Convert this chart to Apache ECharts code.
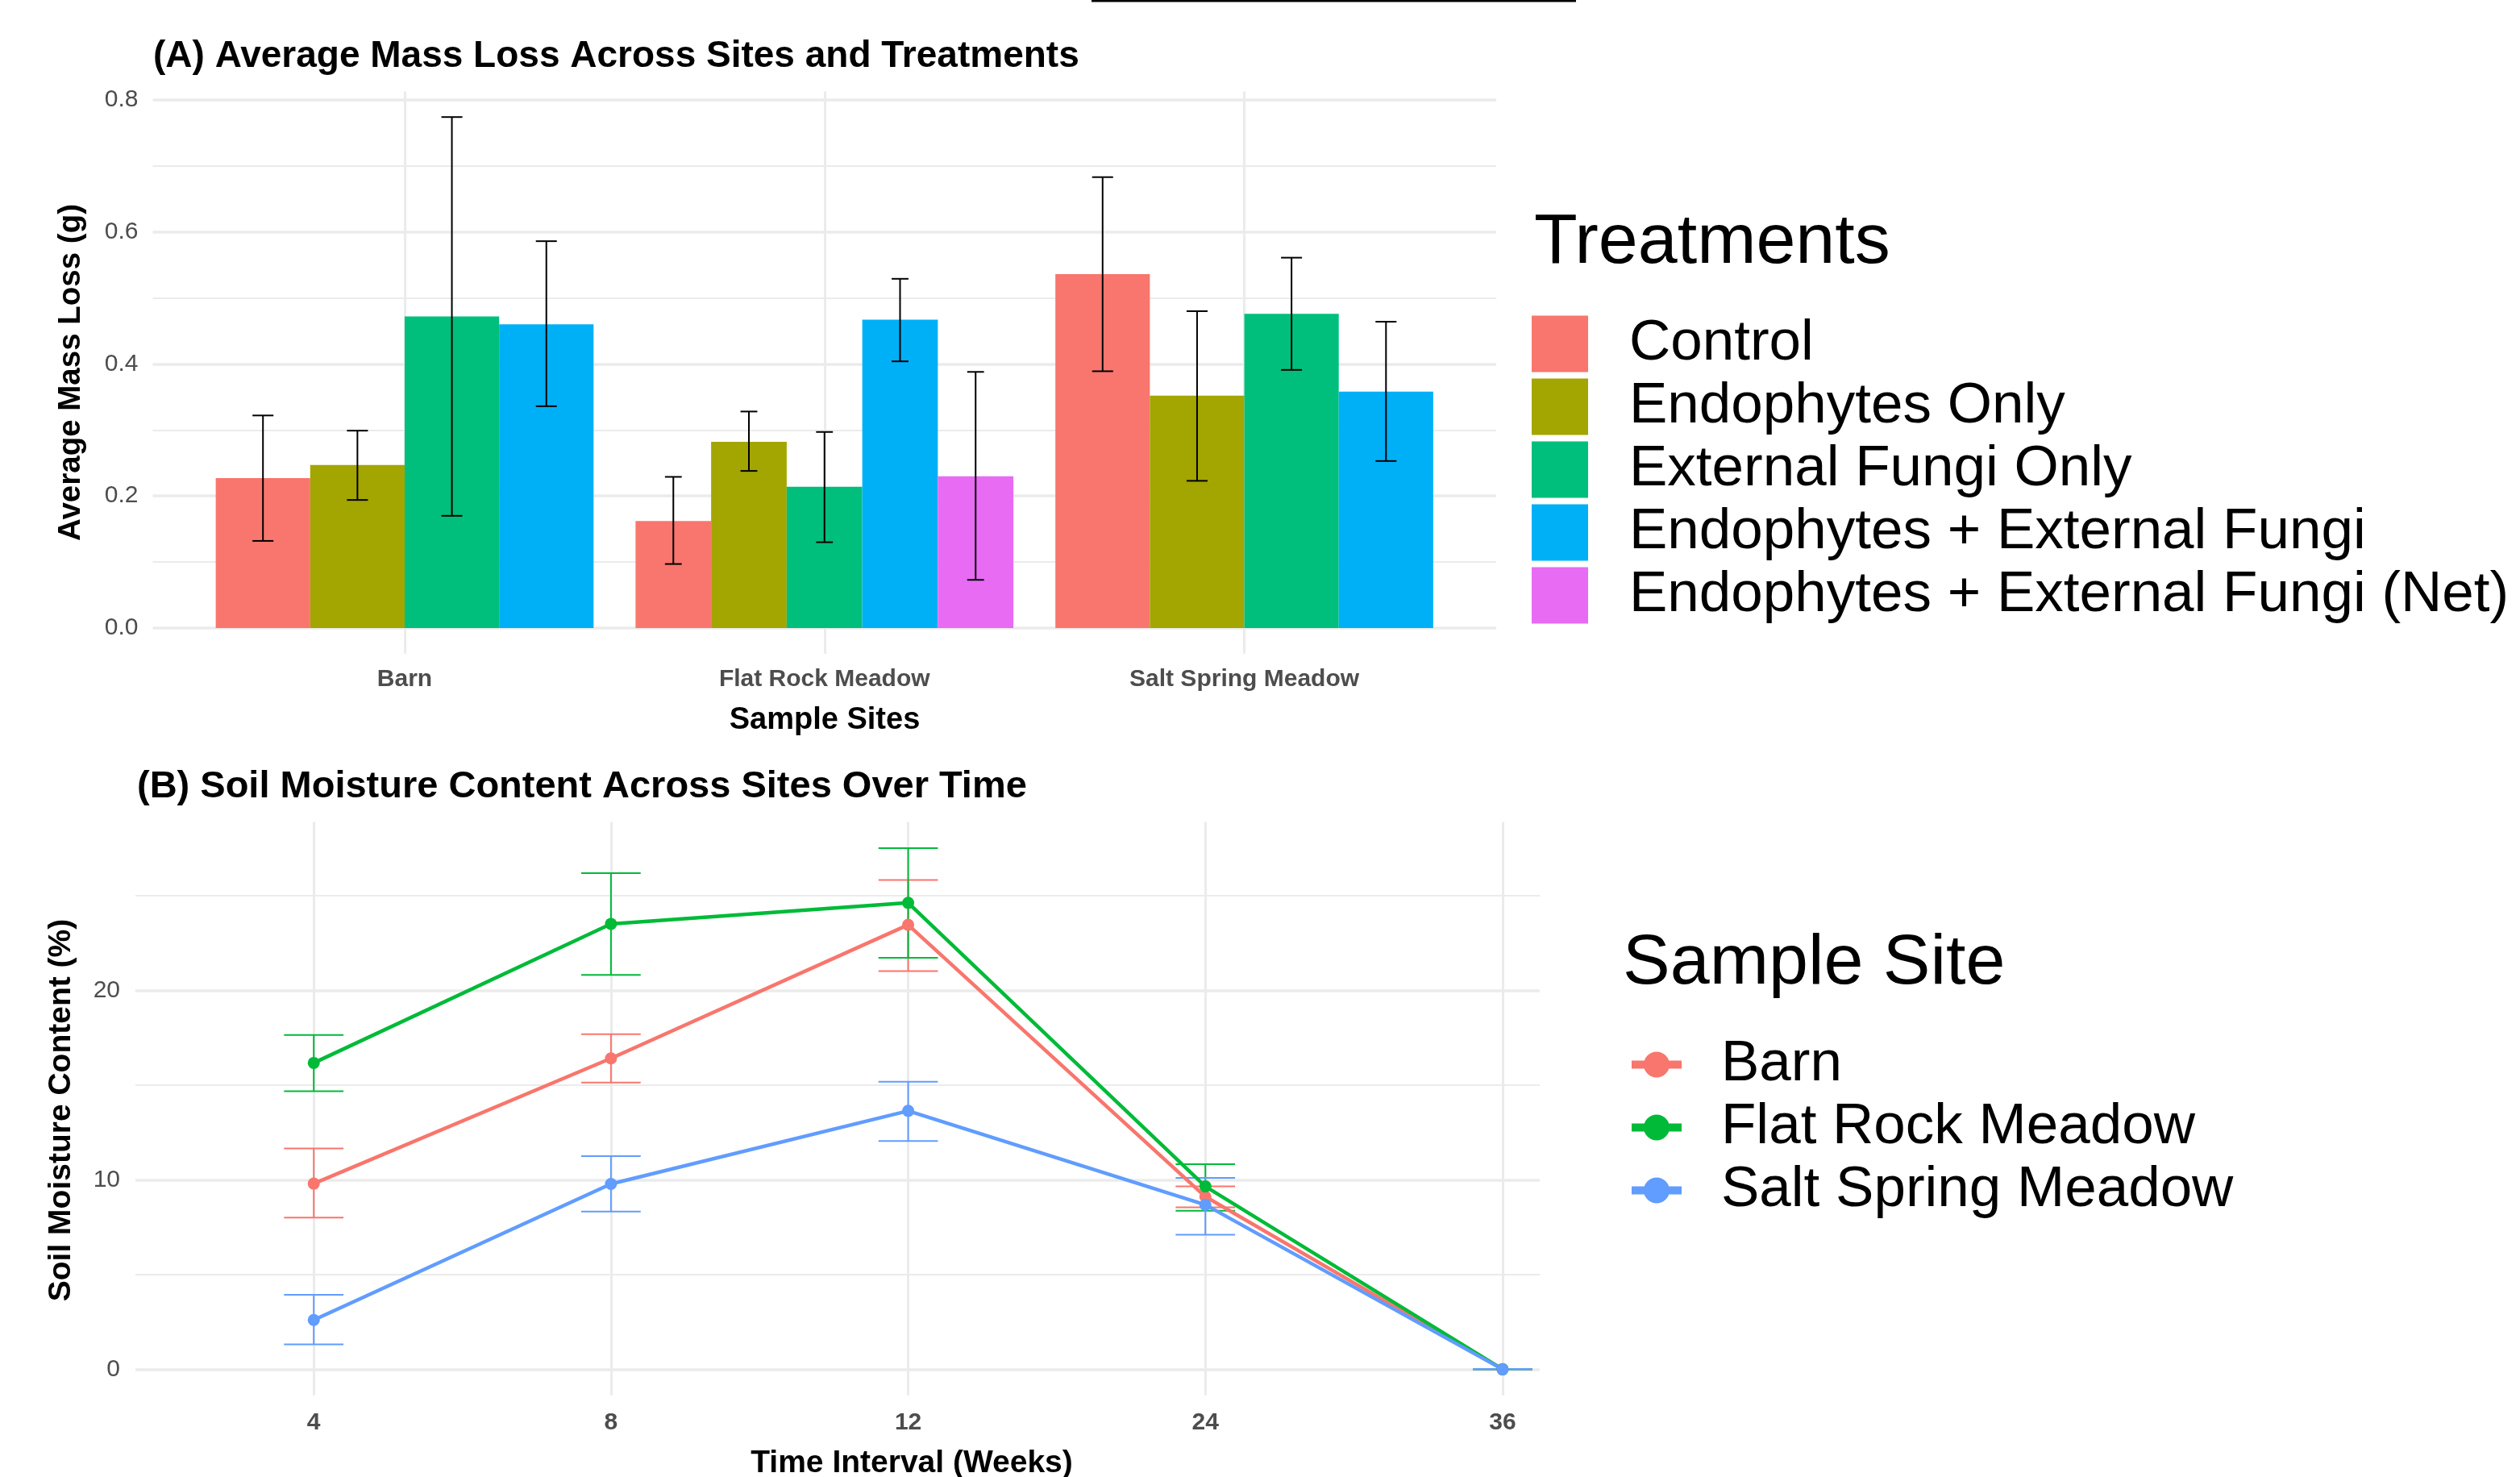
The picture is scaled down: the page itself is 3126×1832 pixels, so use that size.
<!DOCTYPE html>
<html><head><meta charset="utf-8">
<script src="https://cdn.jsdelivr.net/npm/echarts@6/dist/echarts.min.js"></script>
<style>html,body{margin:0;padding:0;background:#fff}#c{width:3126px;height:1832px}</style>
</head><body><div id="c"></div>
<script>
// ---------- Panel A data ----------
const sites = ['Barn', 'Flat Rock Meadow', 'Salt Spring Meadow'];
const treatments = ['Control', 'Endophytes Only', 'External Fungi Only', 'Endophytes + External Fungi', 'Endophytes + External Fungi (Net)'];
const massControl = [0.227, 0.162, 0.536];
const massEndo = [0.247, 0.282, 0.352];
const massExt = [0.472, 0.214, 0.476];
const massBoth = [0.460, 0.467, 0.358];
const massNet = [null, 0.230, null];
const lowControl = [0.132, 0.097, 0.389];
const lowEndo = [0.194, 0.238, 0.223];
const lowExt = [0.170, 0.130, 0.391];
const lowBoth = [0.336, 0.404, 0.253];
const lowNet = [null, 0.073, null];
const highControl = [0.322, 0.229, 0.683];
const highEndo = [0.299, 0.328, 0.480];
const highExt = [0.774, 0.297, 0.561];
const highBoth = [0.586, 0.529, 0.464];
const highNet = [null, 0.388, null];
const massTicks = [0, 0.2, 0.4, 0.6, 0.8];
const massMinor = [0.1, 0.3, 0.5, 0.7];

// ---------- Panel B data ----------
const weeks = ['4', '8', '12', '24', '36'];
const siteNames = ['Barn', 'Flat Rock Meadow', 'Salt Spring Meadow'];
const moistBarn = [9.80, 16.41, 23.46, 9.11, 0];
const moistFlat = [16.17, 23.51, 24.62, 9.65, 0];
const moistSalt = [2.60, 9.78, 13.64, 8.68, 0];
const lowBarn = [8.01, 15.13, 21.02, 8.55, 0];
const lowFlat = [14.68, 20.81, 21.72, 8.37, 0];
const lowSalt = [1.31, 8.33, 12.05, 7.10, 0];
const highBarn = [11.66, 17.69, 25.83, 9.65, 0];
const highFlat = [17.64, 26.19, 27.51, 10.82, 0];
const highSalt = [3.93, 11.25, 15.18, 10.10, 0];
const moistTicks = [0, 10, 20];
const moistMinor = [5, 15, 25];

// ---------- styling ----------
const FONT = '"Liberation Sans", Arial, Helvetica, sans-serif';
const barColors = ['#F8766D', '#A3A500', '#00BF7D', '#00B0F6', '#E76BF3'];
const lineColors = ['#F8766D', '#00BA38', '#619CFF'];
const GRID = '#ebebeb';
const TICK = '#4d4d4d';

const means = [massControl, massEndo, massExt, massBoth, massNet];
const lows = [lowControl, lowEndo, lowExt, lowBoth, lowNet];
const highs = [highControl, highEndo, highExt, highBoth, highNet];
const presentBySite = sites.map((s, i) => treatments.map((t, k) => k).filter(k => means[k][i] != null));

function slotGeom(api, site, tIdx) {
  const present = presentBySite[site];
  const n = present.length, k = present.indexOf(tIdx);
  const unit = api.size([1, 0])[0];
  const total = 0.9 * unit, bw = total / n;
  const c0 = api.coord([site, 0]);
  const x0 = c0[0] - total / 2 + k * bw;
  return { x0, bw, y0: c0[1], cap: 0.2 * unit / n };
}

const barSeries = treatments.map((t, k) => ({
  name: t, type: 'custom', xAxisIndex: 0, yAxisIndex: 0, z: 2,
  itemStyle: { color: barColors[k] },
  data: sites.map((s, i) => means[k][i] == null ? null : [i, means[k][i]]).filter(d => d),
  renderItem: function (params, api) {
    const site = api.value(0), v = api.value(1);
    const g = slotGeom(api, site, k);
    const yTop = api.coord([site, v])[1];
    return { type: 'rect', shape: { x: g.x0, y: yTop, width: g.bw, height: g.y0 - yTop }, style: { fill: barColors[k] } };
  }
}));

const errA = [];
treatments.forEach((t, k) => sites.forEach((s, i) => { if (means[k][i] != null) errA.push([i, lows[k][i], highs[k][i], k]); }));
const errASeries = {
  name: '_errA', type: 'custom', xAxisIndex: 0, yAxisIndex: 0, z: 3, data: errA,
  renderItem: function (params, api) {
    const site = api.value(0), lo = api.value(1), hi = api.value(2), k = api.value(3);
    const g = slotGeom(api, site, k);
    const cx = g.x0 + g.bw / 2, h = g.cap / 2;
    const yl = api.coord([site, lo])[1], yh = api.coord([site, hi])[1];
    const st = { stroke: '#000', lineWidth: 2, fill: null };
    return { type: 'group', children: [
      { type: 'line', shape: { x1: cx, y1: yl, x2: cx, y2: yh }, style: st },
      { type: 'line', shape: { x1: cx - h, y1: yl, x2: cx + h, y2: yl }, style: st },
      { type: 'line', shape: { x1: cx - h, y1: yh, x2: cx + h, y2: yh }, style: st }
    ] };
  }
};

const moist = [moistBarn, moistFlat, moistSalt];
const mLow = [lowBarn, lowFlat, lowSalt];
const mHigh = [highBarn, highFlat, highSalt];
const errB = [];
siteNames.forEach((s, j) => weeks.forEach((w, i) => errB.push([i, mLow[j][i], mHigh[j][i], j])));
const errBSeries = {
  name: '_errB', type: 'custom', xAxisIndex: 1, yAxisIndex: 2, z: 2, data: errB,
  renderItem: function (params, api) {
    const x = api.value(0), lo = api.value(1), hi = api.value(2), j = api.value(3);
    const unit = api.size([1, 0])[0];
    const h = 0.1 * unit;
    const pl = api.coord([x, lo]), ph = api.coord([x, hi]);
    const st = { stroke: lineColors[j], lineWidth: 2, fill: null };
    return { type: 'group', children: [
      { type: 'line', shape: { x1: pl[0], y1: pl[1], x2: ph[0], y2: ph[1] }, style: st },
      { type: 'line', shape: { x1: pl[0] - h, y1: pl[1], x2: pl[0] + h, y2: pl[1] }, style: st },
      { type: 'line', shape: { x1: ph[0] - h, y1: ph[1], x2: ph[0] + h, y2: ph[1] }, style: st }
    ] };
  }
};
const lineSeries = siteNames.map((s, j) => ({
  name: s, type: 'line', xAxisIndex: 1, yAxisIndex: 2, z: 4,
  data: moist[j].map((v, i) => [i, v]),
  symbol: 'circle', symbolSize: 15, showSymbol: true,
  itemStyle: { color: lineColors[j] },
  lineStyle: { color: lineColors[j], width: 4.5 },
  emphasis: { disabled: true }, animation: false
}));

function hiddenAxisBase() {
  return { axisLine: { show: false }, axisTick: { show: false }, axisLabel: { show: false } };
}

const option = {
  animation: false,
  backgroundColor: '#ffffff',
  textStyle: { fontFamily: FONT },
  grid: [
    { left: 189.5, top: 113.5, width: 1666.5, height: 697.2, outerBoundsMode: 'none', containLabel: false },
    { left: 168, top: 1019.6, width: 1742, height: 711.1, outerBoundsMode: 'none', containLabel: false }
  ],
  xAxis: [
    { type: 'value', gridIndex: 0, min: -0.6, max: 2.6,
      axisLine: { show: false },
      axisTick: { show: false, customValues: [0, 1, 2] },
      axisLabel: { customValues: [0, 1, 2], formatter: v => sites[Math.round(v)], fontSize: 30, fontWeight: 'bold', color: TICK, fontFamily: FONT, margin: 17 },
      splitLine: { show: true, lineStyle: { color: GRID, width: 3 } } },
    { type: 'value', gridIndex: 1, min: -0.6, max: 4.125,
      axisLine: { show: false },
      axisTick: { show: false, customValues: [0, 1, 2, 3, 4] },
      axisLabel: { customValues: [0, 1, 2, 3, 4], formatter: v => weeks[Math.round(v)], fontSize: 30, fontWeight: 'bold', color: TICK, fontFamily: FONT, margin: 19 },
      splitLine: { show: true, lineStyle: { color: GRID, width: 3 } } }
  ],
  yAxis: [
    { type: 'value', gridIndex: 0, min: -0.0387, max: 0.8127,
      axisLine: { show: false },
      axisTick: { show: false, customValues: massTicks },
      axisLabel: { customValues: massTicks, formatter: v => v.toFixed(1), fontSize: 30, color: TICK, fontFamily: FONT, margin: 18 },
      splitLine: { show: true, lineStyle: { color: GRID, width: 3.5 } } },
    Object.assign(hiddenAxisBase(), { type: 'value', gridIndex: 0, min: -0.0387, max: 0.8127, position: 'left',
      axisTick: { show: false, customValues: massMinor },
      splitLine: { show: true, lineStyle: { color: GRID, width: 2 } } }),
    { type: 'value', gridIndex: 1, min: -1.376, max: 28.886,
      axisLine: { show: false },
      axisTick: { show: false, customValues: moistTicks },
      axisLabel: { customValues: moistTicks, formatter: v => String(v), fontSize: 30, color: TICK, fontFamily: FONT, margin: 19 },
      splitLine: { show: true, lineStyle: { color: GRID, width: 3.5 } } },
    Object.assign(hiddenAxisBase(), { type: 'value', gridIndex: 1, min: -1.376, max: 28.886, position: 'left',
      axisTick: { show: false, customValues: moistMinor },
      splitLine: { show: true, lineStyle: { color: GRID, width: 2 } } })
  ],
  legend: [
    { data: treatments, orient: 'vertical', left: 1900, top: 391, itemWidth: 70, itemHeight: 70, itemGap: 7,
      icon: 'rect', padding: 0, selectedMode: false,
      textStyle: { fontSize: 71, lineHeight: 70, color: '#000', fontFamily: FONT, padding: [0, 0, 0, 46] } },
    { data: siteNames, orient: 'vertical', left: 2019, top: 1285, itemWidth: 62, itemHeight: 40, itemGap: 7,
      padding: 0, selectedMode: false,
      lineStyle: { width: 10 },
      textStyle: { fontSize: 71, lineHeight: 70, color: '#000', fontFamily: FONT, padding: [0, 0, 0, 44] } }
  ],
  graphic: [
    { type: 'rect', left: 1354, top: 0, shape: { width: 601, height: 2.5 }, style: { fill: '#000' } },
    { type: 'text', x: 190, y: 70, style: { text: '(A) Average Mass Loss Across Sites and Treatments', font: 'bold 46px ' + FONT, fill: '#000', textAlign: 'left', textVerticalAlign: 'middle' } },
    { type: 'text', x: 170, y: 976, style: { text: '(B) Soil Moisture Content Across Sites Over Time', font: 'bold 47px ' + FONT, fill: '#000', textAlign: 'left', textVerticalAlign: 'middle' } },
    { type: 'text', x: 1023, y: 894, style: { text: 'Sample Sites', font: 'bold 38px ' + FONT, fill: '#000', textAlign: 'center', textVerticalAlign: 'middle' } },
    { type: 'text', x: 1131, y: 1815, style: { text: 'Time Interval (Weeks)', font: 'bold 39px ' + FONT, fill: '#000', textAlign: 'center', textVerticalAlign: 'middle' } },
    { type: 'text', x: 88, y: 462, rotation: Math.PI / 2, style: { text: 'Average Mass Loss (g)', font: 'bold 38.5px ' + FONT, fill: '#000', textAlign: 'center', textVerticalAlign: 'middle' } },
    { type: 'text', x: 76, y: 1377, rotation: Math.PI / 2, style: { text: 'Soil Moisture Content (%)', font: 'bold 39px ' + FONT, fill: '#000', textAlign: 'center', textVerticalAlign: 'middle' } },
    { type: 'text', x: 1903, y: 302, style: { text: 'Treatments', font: '88px ' + FONT, fill: '#000', textAlign: 'left', textVerticalAlign: 'middle' } },
    { type: 'text', x: 2013, y: 1196, style: { text: 'Sample Site', font: '88px ' + FONT, fill: '#000', textAlign: 'left', textVerticalAlign: 'middle' } }
  ],
  series: [...barSeries, errASeries, errBSeries, ...lineSeries]
};
const chart = echarts.init(document.getElementById('c'));
chart.setOption(option);
</script></body></html>
